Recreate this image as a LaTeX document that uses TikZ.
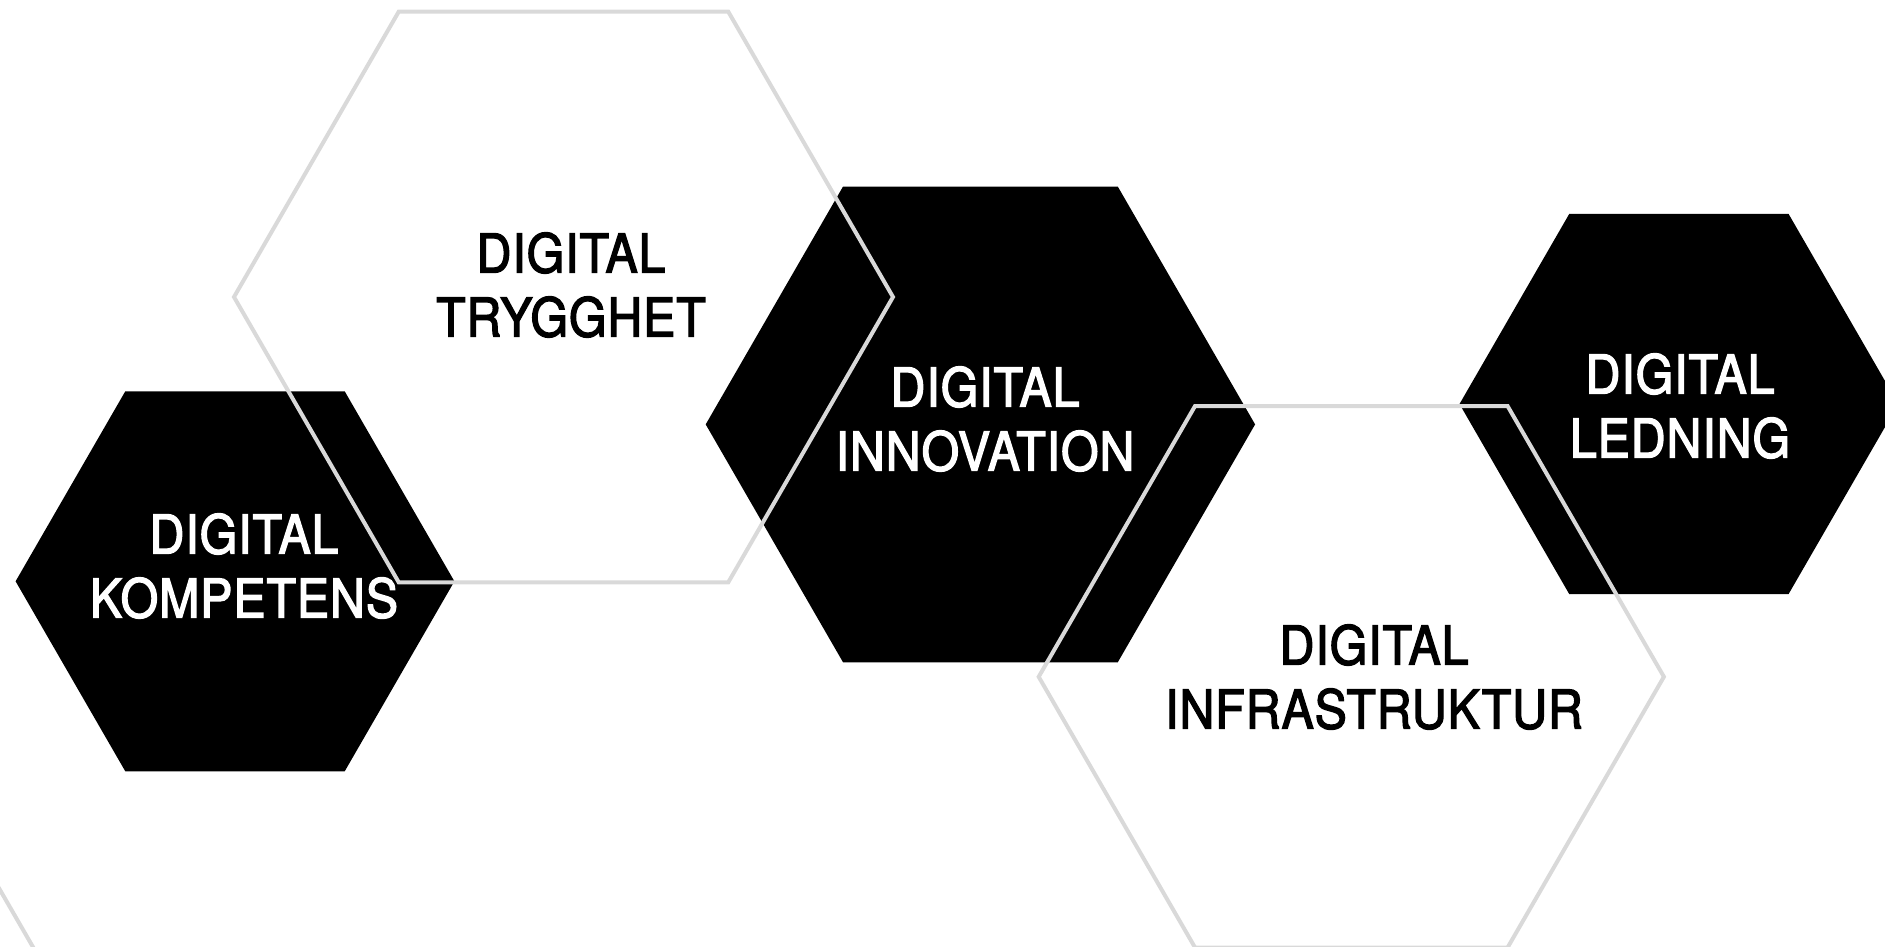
\documentclass[tikz,border=0pt]{standalone}
\usepackage{fontspec}
\setmainfont[FakeStretch=0.9,LetterSpace=1.8,FakeBold=2.5]{TeX Gyre Heros}
\definecolor{hexgray}{HTML}{D9D9D9}
\begin{document}
\begin{tikzpicture}[x=1pt,y=-1pt,
  blackhex/.style={fill=black,draw=none},
  outlinehex/.style={draw=hexgray,line width=4pt,line join=miter},
  label/.style={align=center,inner sep=0pt,font=\fontsize{53.6}{64}\selectfont},
  onblack/.style={label,text=white},
  onwhite/.style={label,text=black}]
\useasboundingbox (0,0) rectangle (1885,947);
\clip (0,0) rectangle (1885,947);
\newcommand\hexagon[4]{\path[#1] (#2,#3) +(0:#4) -- +(60:#4) -- +(120:#4) -- +(180:#4) -- +(240:#4) -- +(300:#4) -- cycle;}
% black hexagons
\hexagon{blackhex}{980.4}{424.4}{274.7}
\hexagon{blackhex}{235}{581.3}{219.4}
\hexagon{blackhex}{1678.9}{404}{219.4}
% outline hexagons
\hexagon{outlinehex}{563.5}{297}{329.5}
\hexagon{outlinehex}{1351.3}{676.8}{312.6}
\hexagon{outlinehex}{-221.9}{1047}{312.6}
% labels
\node[onwhite] (trygghet) at (571,285) {DIGITAL\\TRYGGHET};
\node[onblack] (innovation) at (985,419) {DIGITAL\\INNOVATION};
\node[onblack] (kompetens) at (244,566) {DIGITAL\\KOMPETENS};
\node[onblack] (ledning) at (1680,406) {DIGITAL\\LEDNING};
\node[onwhite] (infra) at (1374,677) {DIGITAL\\INFRASTRUKTUR};
\end{tikzpicture}
\end{document}
